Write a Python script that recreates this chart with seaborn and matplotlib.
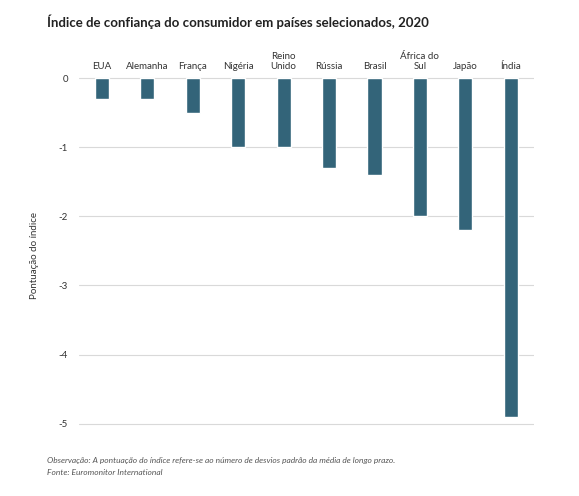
import matplotlib
matplotlib.use("Agg")
import matplotlib.pyplot as plt
import seaborn as sns
import pandas as pd

categories = ["EUA", "Alemanha", "França", "Nigéria", "Reino\nUnido", "Rússia", "Brasil", "África do\nSul", "Japão", "Índia"]
values = [-0.3, -0.3, -0.5, -1.0, -1.0, -1.3, -1.4, -2.0, -2.2, -4.9]
yticks = [0, -1, -2, -3, -4, -5]

sns.set_theme(style="white")
plt.rcParams['font.family'] = ['Lato', 'DejaVu Sans']
fig = plt.figure(figsize=(5.79, 4.96), dpi=100)
ax = fig.add_axes([0.1365, 0.125, 0.785, 0.72])
df = pd.DataFrame({"cat": categories, "val": values})
sns.barplot(data=df, x="cat", y="val", color="#336479", saturation=1, width=0.31, ax=ax, zorder=3)
ax.set_xlim(-0.5, 9.5)
ax.set_ylim(-5.15, 0.02)
ax.set_yticks(yticks)
ax.set_yticklabels([str(t) if t != 0 else "0" for t in yticks], fontsize=7, color="#333333")
ax.yaxis.grid(True, color="#d9d9d9", linewidth=0.8, zorder=0)
for s in ax.spines.values():
    s.set_visible(False)
ax.xaxis.tick_top()
ax.tick_params(axis="x", length=0, labelsize=7, colors="#333333", pad=4)
ax.tick_params(axis="y", length=0, pad=8)
ax.set_xlabel("")
ax.set_ylabel("Pontuação do índice", fontsize=7, color="#333333", labelpad=14)
fig.text(0.081, 0.945, "Índice de confiança do consumidor em países selecionados, 2020",
         fontsize=9.5, fontweight="bold", color="#222222")
fig.text(0.081, 0.066, "Observação: A pontuação do índice refere-se ao número de desvios padrão da média de longo prazo.",
         fontsize=6, style="italic", color="#555555")
fig.text(0.081, 0.042, "Fonte: Euromonitor International", fontsize=6, style="italic", color="#555555")
fig.savefig("out.png", dpi=100)
